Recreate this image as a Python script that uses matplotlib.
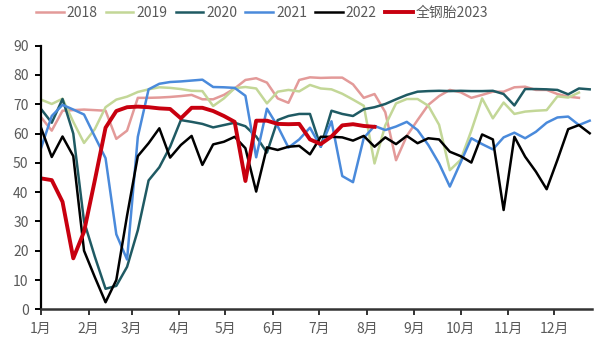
import matplotlib
matplotlib.use('Agg')
import matplotlib.pyplot as plt
import numpy as np

plt.rcParams['font.family'] = ['Noto Sans CJK SC', 'DejaVu Sans']

# weekly readings, week index -> day of year = 7*i
y2018 = [65.6, 61, 67.8, 68, 68.2, 68, 67.8, 58.2, 61, 72.2, 72.2, 72.3, 72.5, 72.8,
         73.2, 71.7, 71.7, 73.2, 75.4, 78.3, 78.9, 77.4, 72, 70.5, 78.3, 79.2, 79,
         79.1, 79.1, 76.8, 72.2, 73.5, 67.3, 50.9, 59.2, 64.6, 69.8, 72.8, 74.9, 74.1,
         72.2, 73.2, 74.3, 74.3, 75.8, 76, 74.9, 74.9, 73.5, 72.6, 72.2]
y2019 = [71.6, 70.1, 71.9, 64, 56.8, 61.5, 69, 71.6, 72.6, 74.2, 75.1, 75.8, 75.6, 75.2,
         74.6, 74.5, 69.4, 72, 75.5, 75.9, 75.4, 70.3, 74.3, 74.9, 74.4, 76.6, 75.4,
         75.1, 73.6, 71.6, 69.5, 49.8, 62.8, 70.3, 71.8, 71.8, 69.5, 63, 47.5, 51,
         61, 72, 65.2, 70.6, 66.7, 67.5, 67.8, 68, 72.7, 72.3, 74]
y2020 = [68.4, 63.7, 71.8, 60, 30, 18, 7, 8, 14.5, 27, 44, 48.5, 55.5, 64.6, 64, 63.3,
         62.1, 62.9, 63.7, 62.5, 59, 53.5, 64.6, 66, 66.7, 66.7, 55.5, 67.8, 66.7, 66,
         68.3, 69, 70.1, 71.7, 73.2, 74.3, 74.5, 74.6, 74.5, 74.6, 74.5, 74.5, 74.6,
         73.5, 69.6, 75.2, 75.2, 75.1, 74.9, 73.4, 75.4, 75.1]
y2021 = [55, 66, 69.8, 68.2, 66.5, 59, 51.6, 25.6, 17, 58.9, 75.1, 77, 77.6, 77.8, 78.1,
         78.4, 75.9, 75.8, 75.6, 72.9, 51.9, 68.5, 62.5, 55.2, 58, 62, 55.5, 64.2, 45.5,
         43.4, 58.5, 62.6, 61.2, 62.4, 64, 61.2, 56.1, 49.8, 41.9, 50.1, 58.4, 56.4,
         54.6, 58.7, 60.3, 58.4, 60.6, 63.7, 65.5, 65.8, 62.9, 64.4]
y2022 = [62, 52, 59, 52.3, 20, 11, 2.4, 10, 32, 52.3, 56.7, 61.8, 51.8, 56.1, 59.2, 49.3,
         56.3, 57.2, 58.9, 55, 40.2, 55.3, 54.4, 55.5, 55.8, 52.9, 58.9, 58.9, 58.7,
         57.6, 59.2, 55.5, 58.7, 56.4, 59.2, 56.7, 58.4, 58, 53.8, 52.3, 50.1, 59.7,
         58, 33.9, 58.9, 52.1, 47, 41, 51, 61.5, 62.9, 60.1]
y2023 = [44.7, 44.1, 36.7, 17.4, 26.5, 44, 62, 67.7, 69, 69.2, 69, 68.6, 68.4, 65.2, 68.8,
         68.8, 67.7, 66, 64, 43.8, 64.4, 64.4, 63.3, 63.2, 63.3, 58, 56.4, 59, 62.8,
         63.2, 62.6, 62.3]

series = [
    ('2018', y2018, '#E39A99', 1.8),
    ('2019', y2019, '#C3D797', 1.8),
    ('2020', y2020, '#1F5A63', 1.8),
    ('2021', y2021, '#4A8ADB', 1.8),
    ('2022', y2022, '#000000', 1.8),
    ('全钢胎2023', y2023, '#C8000F', 2.8),
]

month_days = [0, 31, 59, 90, 120, 151, 181, 212, 243, 273, 304, 334]
month_labels = ['%d月' % m for m in range(1, 13)]

fig = plt.figure(figsize=(6.16, 3.49), dpi=100)
ax = fig.add_axes([41/616, 1-309.3/349, 551/616, (309.3-45.7)/349])

for name, vals, col, lw in series:
    days = np.arange(len(vals))*7
    ax.plot(days, vals, color=col, lw=lw, label=name, solid_joinstyle='round')

ax.set_xlim(0, 358.5)
ax.set_ylim(0, 90)
ax.set_yticks(range(0, 91, 10))
ax.set_xticks(month_days)
ax.set_xticklabels(month_labels)

for s in ['top', 'right']:
    ax.spines[s].set_visible(False)
ax.spines['left'].set_linewidth(1.6)
ax.spines['left'].set_color('#000000')
ax.spines['bottom'].set_linewidth(1.8)
ax.spines['bottom'].set_color('#333333')
ax.tick_params(axis='y', length=4, width=1.4, pad=5, labelsize=10, labelcolor='#595959')
ax.tick_params(axis='x', length=4, width=1.4, pad=5, labelsize=10, labelcolor='#595959',
               color='#333333')

fig.legend(loc='center', bbox_to_anchor=(262/616, 1-13/349), ncol=6, frameon=False,
           fontsize=10, handlelength=2.0, handletextpad=0.2, columnspacing=0.6,
           labelcolor='#595959')

fig.savefig('out.png', dpi=100)
